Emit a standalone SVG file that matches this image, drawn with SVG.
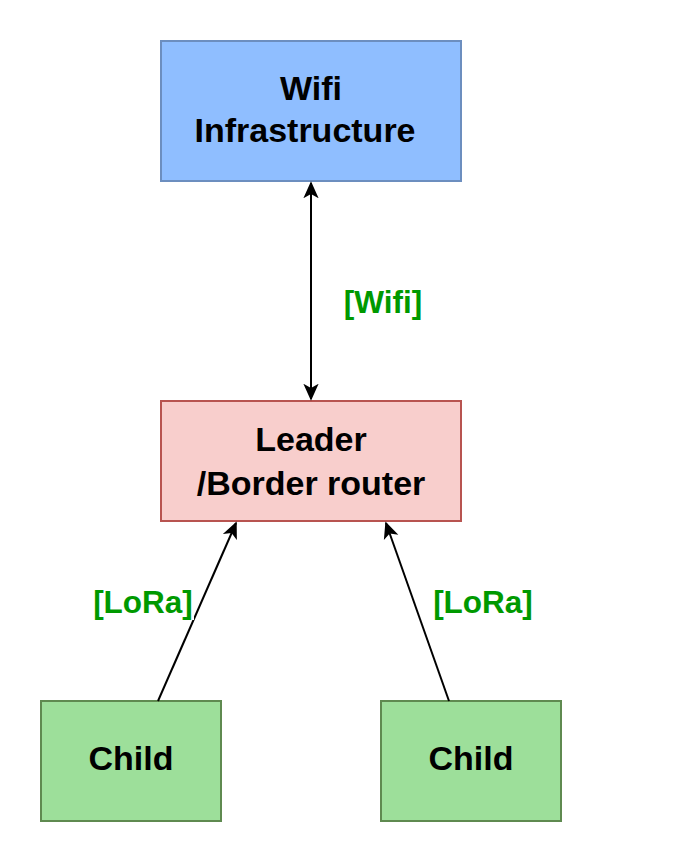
<svg xmlns="http://www.w3.org/2000/svg" width="682" height="862" viewBox="0 0 682 862">
<style>
.t{font-family:"Liberation Sans",Arial,sans-serif;font-weight:bold;font-size:34px;fill:#000;text-anchor:middle}
.l{font-family:"Liberation Sans",Arial,sans-serif;font-weight:bold;font-size:31.5px;fill:#009900;text-anchor:middle}
.c{stroke:#000;stroke-width:2;fill:none}
</style>
<defs>
<marker id="ah" viewBox="0 0 20 20" refX="18" refY="10" markerWidth="17" markerHeight="17" markerUnits="userSpaceOnUse" orient="auto-start-reverse">
<path d="M0,1 L20,10 L0,19 L5,10 Z" fill="#000"/>
</marker>
</defs>
<rect width="682" height="862" fill="#fff"/>
<g id="wifi">
<rect x="161" y="41" width="300" height="140" fill="#8fbeff" stroke="#6c8ebf" stroke-width="2"/>
<text class="t" x="311" y="100">Wifi</text>
<text class="t" x="305" y="142">Infrastructure</text>
</g>
<g id="leader">
<rect x="161" y="401" width="300" height="120" fill="#f8cecc" stroke="#b85450" stroke-width="2"/>
<text class="t" x="311" y="451">Leader</text>
<text class="t" x="311" y="495">/Border router</text>
</g>
<g id="child1">
<rect x="41" y="701" width="180" height="120" fill="#9ddf9a" stroke="#5f8a50" stroke-width="2"/>
<text class="t" x="131" y="770">Child</text>
</g>
<g id="child2">
<rect x="381" y="701" width="180" height="120" fill="#9ddf9a" stroke="#5f8a50" stroke-width="2"/>
<text class="t" x="471" y="770">Child</text>
</g>
<g id="connectors">
<line class="c" x1="311" y1="183" x2="311" y2="399" marker-start="url(#ah)" marker-end="url(#ah)"/>
<line class="c" x1="158" y1="701" x2="236" y2="523" marker-end="url(#ah)"/>
<line class="c" x1="449" y1="701" x2="386" y2="523" marker-end="url(#ah)"/>
<rect x="339" y="283" width="88" height="36" fill="#fff"/>
<text class="l" x="383" y="313">[Wifi]</text>
<rect x="92" y="584" width="102" height="36" fill="#fff"/>
<text class="l" x="143" y="613">[LoRa]</text>
<text class="l" x="483" y="613">[LoRa]</text>
</g>
</svg>
